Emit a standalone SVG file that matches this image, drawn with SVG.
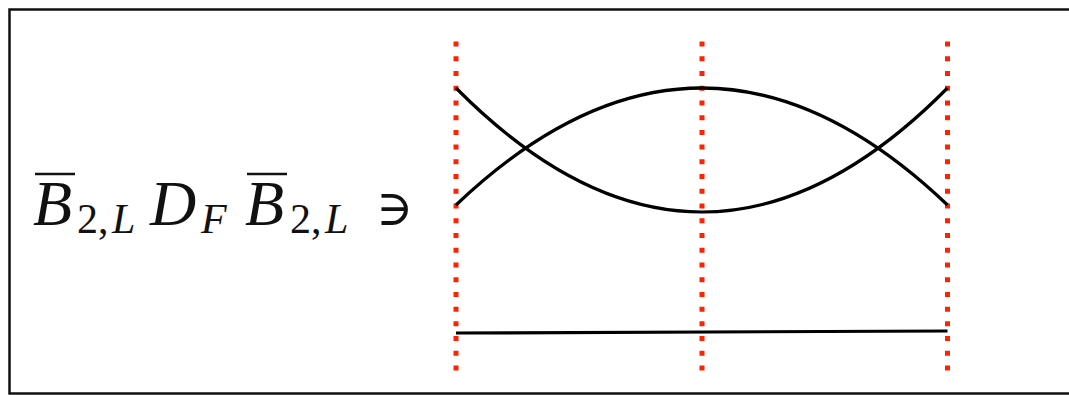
<svg xmlns="http://www.w3.org/2000/svg" width="1069" height="395" viewBox="0 0 1069 395">
<style>
.m{font-family:"Liberation Serif","DejaVu Serif",serif;fill:#111}
.i{font-style:italic}
.big{font-size:64px}
.sub{font-size:42px}
.ol{stroke:#111;stroke-width:2.5}
.dot{stroke:#ff2200;stroke-width:5;stroke-dasharray:5 9.73;fill:none}
.curve{stroke:#000;stroke-width:3.2;fill:none}
</style>
<rect x="0" y="0" width="1069" height="395" fill="#fff"/>
<rect id="frame" x="9.5" y="9.5" width="1070" height="384" fill="none" stroke="#111" stroke-width="2.5"/>
<g id="label">
<line class="ol" x1="35" y1="174" x2="75" y2="174"/>
<text class="m i big" x="33" y="225">B</text>
<text class="m sub" x="77" y="233">2,</text>
<text class="m i sub" x="112" y="233">L</text>
<text class="m i big" x="150" y="225">D</text>
<text class="m i sub" x="201" y="233">F</text>
<line class="ol" x1="247" y1="174" x2="287" y2="174"/>
<text class="m i big" x="245" y="225">B</text>
<text class="m sub" x="290" y="233">2,</text>
<text class="m i sub" x="325" y="233">L</text>
<text class="m" style="font-size:50px" x="376" y="225">∋</text>
</g>
<g id="guides">
<line class="dot" x1="456" y1="41.5" x2="456" y2="374"/>
<line class="dot" x1="702" y1="41.5" x2="702" y2="374"/>
<line class="dot" x1="947.5" y1="41.5" x2="947.5" y2="374"/>
</g>
<g id="connectors">
<path class="curve" d="M456,205 Q702,-29 947.5,205"/>
<path class="curve" d="M456,88 Q702,336 947.5,88"/>
<path class="curve" d="M456,333 L947.5,331"/>
</g>
</svg>
